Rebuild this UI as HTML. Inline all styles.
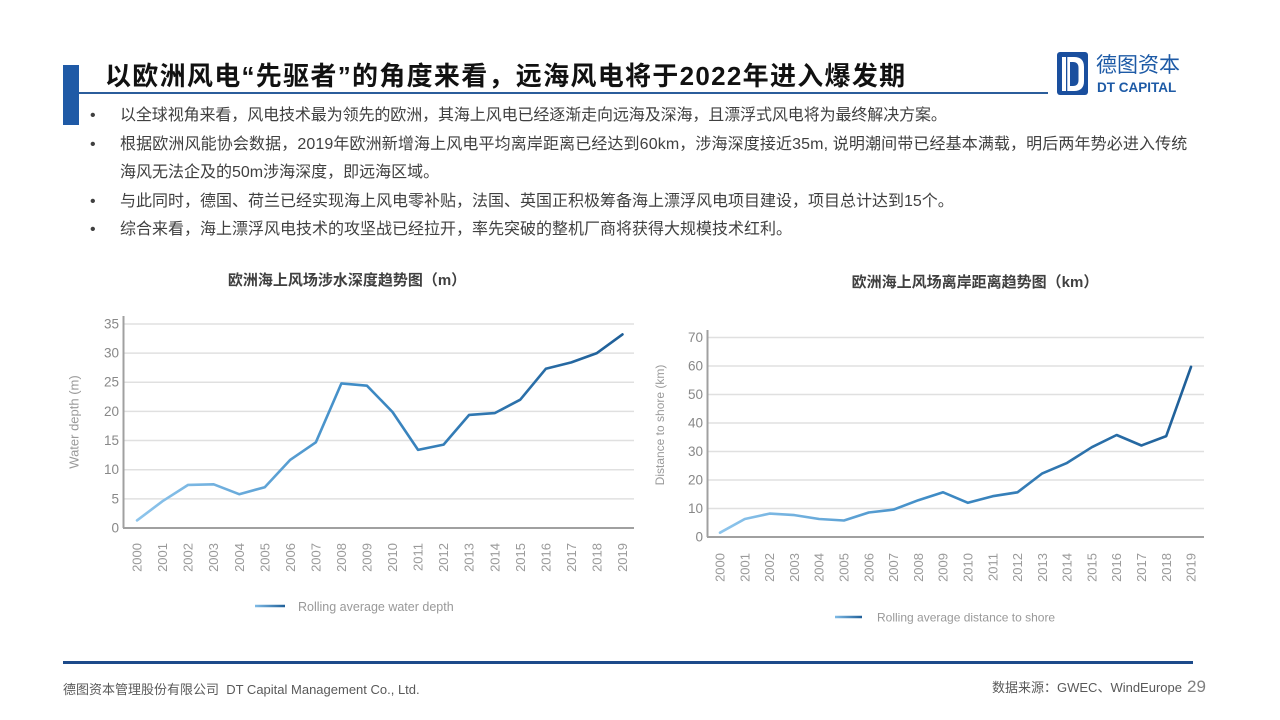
<!DOCTYPE html>
<html>
<head>
<meta charset="utf-8">
<style>
  html,body{margin:0;padding:0;background:#fff;}
  body{width:1280px;height:720px;position:relative;overflow:hidden;font-family:"Liberation Sans","Noto Sans CJK SC",sans-serif;}
  .abs{position:absolute;white-space:nowrap;}
  .title{left:105px;top:59px;font-size:26px;line-height:34px;font-weight:bold;color:#111;letter-spacing:1.3px;font-family:"Liberation Sans","Noto Sans CJK SC",sans-serif;}
  .bul{left:90px;font-size:16px;line-height:20px;color:#404040;}
  .txt{left:120px;font-size:16px;line-height:20px;color:#404040;}
  .foot{font-size:13px;line-height:16px;color:#595959;}
</style>
</head>
<body>
<!-- left bar -->
<div class="abs" style="left:63px;top:65px;width:16px;height:60px;background:#1f5aa6;"></div>
<!-- title underline -->
<div class="abs" style="left:79px;top:91.5px;width:969px;height:2.5px;background:#2b5d9b;"></div>
<div class="abs title">以欧洲风电“先驱者”的角度来看，远海风电将于2022年进入爆发期</div>

<!-- logo -->
<svg class="abs" style="left:0;top:0" width="1280" height="720" viewBox="0 0 1280 720">
  <rect x="1057" y="52" width="31" height="43" rx="3" fill="#1a4f9e"/>
  <path d="M1062,57 H1074 Q1084,57 1084,67 V81 Q1084,91 1074,91 H1062 Z" fill="#fff"/>
  <path d="M1070,62 H1073 Q1078.5,62 1078.5,68 V80 Q1078.5,86 1073,86 H1070 Z" fill="#1a4f9e"/>
  <rect x="1066" y="57" width="1.3" height="34" fill="#1a4f9e"/>
</svg>
<div class="abs" style="left:1096px;top:51px;font-size:21px;line-height:30px;color:#1d5aa6;font-family:'Liberation Sans','Noto Sans CJK SC',sans-serif;">德图资本</div>
<div class="abs" style="left:1097px;top:80px;font-size:13.5px;line-height:16px;font-weight:bold;color:#1d5aa6;">DT CAPITAL</div>

<!-- bullets -->
<div class="abs bul" style="top:106px;">•</div>
<div class="abs txt" style="top:106px;letter-spacing:-0.1px;">以全球视角来看，风电技术最为领先的欧洲，其海上风电已经逐渐走向远海及深海，且漂浮式风电将为最终解决方案。</div>
<div class="abs bul" style="top:134.5px;">•</div>
<div class="abs txt" style="top:134.5px;letter-spacing:0.12px;">根据欧洲风能协会数据，2019年欧洲新增海上风电平均离岸距离已经达到60km，涉海深度接近35m, 说明潮间带已经基本满载，明后两年势必进入传统</div>
<div class="abs txt" style="top:163px;">海风无法企及的50m涉海深度，即远海区域。</div>
<div class="abs bul" style="top:191.5px;">•</div>
<div class="abs txt" style="top:191.5px;">与此同时，德国、荷兰已经实现海上风电零补贴，法国、英国正积极筹备海上漂浮风电项目建设，项目总计达到15个。</div>
<div class="abs bul" style="top:220px;">•</div>
<div class="abs txt" style="top:220px;">综合来看，海上漂浮风电技术的攻坚战已经拉开，率先突破的整机厂商将获得大规模技术红利。</div>

<!-- charts -->
<svg class="abs" style="left:0;top:0" width="1280" height="720" viewBox="0 0 1280 720" font-family="Liberation Sans, sans-serif">
  <defs>
    <linearGradient id="g1" gradientUnits="userSpaceOnUse" x1="137" y1="0" x2="622" y2="0">
      <stop offset="0" stop-color="#8ec5ec"/>
      <stop offset="0.45" stop-color="#3f8cc6"/>
      <stop offset="1" stop-color="#1f5f98"/>
    </linearGradient>
    <linearGradient id="g2" gradientUnits="userSpaceOnUse" x1="720" y1="0" x2="1191" y2="0">
      <stop offset="0" stop-color="#8ec5ec"/>
      <stop offset="0.45" stop-color="#3f8cc6"/>
      <stop offset="1" stop-color="#1f5f98"/>
    </linearGradient>
    <linearGradient id="gl1" gradientUnits="userSpaceOnUse" x1="255" y1="0" x2="285" y2="0">
      <stop offset="0" stop-color="#7fbbe6"/>
      <stop offset="1" stop-color="#1f5f98"/>
    </linearGradient>
    <linearGradient id="gl2" gradientUnits="userSpaceOnUse" x1="835" y1="0" x2="862" y2="0">
      <stop offset="0" stop-color="#7fbbe6"/>
      <stop offset="1" stop-color="#1f5f98"/>
    </linearGradient>
  </defs>

  <!-- Chart 1 -->
  <text x="347" y="285" text-anchor="middle" font-size="15" font-weight="bold" fill="#404040" font-family="Liberation Sans, Noto Sans CJK SC, sans-serif">欧洲海上风场涉水深度趋势图（m）</text>
  <g stroke="#e0e0e0" stroke-width="1.5">
    <line x1="124" y1="498.85" x2="634" y2="498.85"/>
    <line x1="124" y1="469.7" x2="634" y2="469.7"/>
    <line x1="124" y1="440.55" x2="634" y2="440.55"/>
    <line x1="124" y1="411.4" x2="634" y2="411.4"/>
    <line x1="124" y1="382.25" x2="634" y2="382.25"/>
    <line x1="124" y1="353.1" x2="634" y2="353.1"/>
    <line x1="124" y1="323.95" x2="634" y2="323.95"/>
  </g>
  <line x1="123.5" y1="316" x2="123.5" y2="528" stroke="#a0a0a0" stroke-width="2"/>
  <line x1="123" y1="528" x2="634" y2="528" stroke="#a0a0a0" stroke-width="2"/>
  <g font-size="13.5" fill="#888" text-anchor="end">
    <text x="119" y="532.5">0</text>
    <text x="119" y="503.3">5</text>
    <text x="119" y="474.2">10</text>
    <text x="119" y="445">15</text>
    <text x="119" y="415.9">20</text>
    <text x="119" y="386.7">25</text>
    <text x="119" y="357.6">30</text>
    <text x="119" y="328.4">35</text>
  </g>
  <text transform="translate(74,422) rotate(-90)" text-anchor="middle" dy="0.35em" font-size="13" fill="#9a9a9a">Water depth (m)</text>
  <g font-size="13" fill="#9a9a9a" text-anchor="end">
    <text transform="translate(137,543) rotate(-90)" dy="0.35em">2000</text>
    <text transform="translate(162.55,543) rotate(-90)" dy="0.35em">2001</text>
    <text transform="translate(188.1,543) rotate(-90)" dy="0.35em">2002</text>
    <text transform="translate(213.65,543) rotate(-90)" dy="0.35em">2003</text>
    <text transform="translate(239.2,543) rotate(-90)" dy="0.35em">2004</text>
    <text transform="translate(264.75,543) rotate(-90)" dy="0.35em">2005</text>
    <text transform="translate(290.3,543) rotate(-90)" dy="0.35em">2006</text>
    <text transform="translate(315.85,543) rotate(-90)" dy="0.35em">2007</text>
    <text transform="translate(341.4,543) rotate(-90)" dy="0.35em">2008</text>
    <text transform="translate(366.95,543) rotate(-90)" dy="0.35em">2009</text>
    <text transform="translate(392.5,543) rotate(-90)" dy="0.35em">2010</text>
    <text transform="translate(418.05,543) rotate(-90)" dy="0.35em">2011</text>
    <text transform="translate(443.6,543) rotate(-90)" dy="0.35em">2012</text>
    <text transform="translate(469.15,543) rotate(-90)" dy="0.35em">2013</text>
    <text transform="translate(494.7,543) rotate(-90)" dy="0.35em">2014</text>
    <text transform="translate(520.25,543) rotate(-90)" dy="0.35em">2015</text>
    <text transform="translate(545.8,543) rotate(-90)" dy="0.35em">2016</text>
    <text transform="translate(571.35,543) rotate(-90)" dy="0.35em">2017</text>
    <text transform="translate(596.9,543) rotate(-90)" dy="0.35em">2018</text>
    <text transform="translate(622.45,543) rotate(-90)" dy="0.35em">2019</text>
  </g>
  <polyline fill="none" stroke="url(#g1)" stroke-width="2.6" stroke-linejoin="round" stroke-linecap="round"
    points="137,520.4 162.55,501.2 188.1,484.9 213.65,484.3 239.2,494.2 264.75,487.2 290.3,459.8 315.85,442.3 341.4,383.4 366.95,385.7 392.5,412 418.05,449.9 443.6,444.6 469.15,414.9 494.7,413.1 520.25,399.7 545.8,368.8 571.35,362.4 596.9,353.1 622.45,334.4"/>
  <line x1="255" y1="606" x2="285" y2="606" stroke="url(#gl1)" stroke-width="2.6"/>
  <text x="298" y="611" font-size="12.5" fill="#999">Rolling average water depth</text>

  <!-- Chart 2 -->
  <text x="975" y="287" text-anchor="middle" font-size="15" font-weight="bold" fill="#404040" font-family="Liberation Sans, Noto Sans CJK SC, sans-serif">欧洲海上风场离岸距离趋势图（km）</text>
  <g stroke="#e0e0e0" stroke-width="1.5">
    <line x1="708" y1="508.5" x2="1204" y2="508.5"/>
    <line x1="708" y1="480" x2="1204" y2="480"/>
    <line x1="708" y1="451.5" x2="1204" y2="451.5"/>
    <line x1="708" y1="423" x2="1204" y2="423"/>
    <line x1="708" y1="394.5" x2="1204" y2="394.5"/>
    <line x1="708" y1="366" x2="1204" y2="366"/>
    <line x1="708" y1="337.5" x2="1204" y2="337.5"/>
  </g>
  <line x1="707.5" y1="330" x2="707.5" y2="537" stroke="#a0a0a0" stroke-width="2"/>
  <line x1="707" y1="537" x2="1204" y2="537" stroke="#a0a0a0" stroke-width="2"/>
  <g font-size="13.5" fill="#888" text-anchor="end">
    <text x="703" y="541.5">0</text>
    <text x="703" y="513">10</text>
    <text x="703" y="484.5">20</text>
    <text x="703" y="456">30</text>
    <text x="703" y="427.5">40</text>
    <text x="703" y="399">50</text>
    <text x="703" y="370.5">60</text>
    <text x="703" y="342">70</text>
  </g>
  <text transform="translate(660,425) rotate(-90)" text-anchor="middle" dy="0.35em" font-size="12" fill="#9a9a9a">Distance to shore (km)</text>
  <g font-size="13" fill="#9a9a9a" text-anchor="end">
    <text transform="translate(720,553) rotate(-90)" dy="0.35em">2000</text>
    <text transform="translate(744.79,553) rotate(-90)" dy="0.35em">2001</text>
    <text transform="translate(769.58,553) rotate(-90)" dy="0.35em">2002</text>
    <text transform="translate(794.37,553) rotate(-90)" dy="0.35em">2003</text>
    <text transform="translate(819.16,553) rotate(-90)" dy="0.35em">2004</text>
    <text transform="translate(843.95,553) rotate(-90)" dy="0.35em">2005</text>
    <text transform="translate(868.74,553) rotate(-90)" dy="0.35em">2006</text>
    <text transform="translate(893.53,553) rotate(-90)" dy="0.35em">2007</text>
    <text transform="translate(918.32,553) rotate(-90)" dy="0.35em">2008</text>
    <text transform="translate(943.11,553) rotate(-90)" dy="0.35em">2009</text>
    <text transform="translate(967.9,553) rotate(-90)" dy="0.35em">2010</text>
    <text transform="translate(992.69,553) rotate(-90)" dy="0.35em">2011</text>
    <text transform="translate(1017.48,553) rotate(-90)" dy="0.35em">2012</text>
    <text transform="translate(1042.27,553) rotate(-90)" dy="0.35em">2013</text>
    <text transform="translate(1067.06,553) rotate(-90)" dy="0.35em">2014</text>
    <text transform="translate(1091.85,553) rotate(-90)" dy="0.35em">2015</text>
    <text transform="translate(1116.64,553) rotate(-90)" dy="0.35em">2016</text>
    <text transform="translate(1141.43,553) rotate(-90)" dy="0.35em">2017</text>
    <text transform="translate(1166.22,553) rotate(-90)" dy="0.35em">2018</text>
    <text transform="translate(1191,553) rotate(-90)" dy="0.35em">2019</text>
  </g>
  <polyline fill="none" stroke="url(#g2)" stroke-width="2.6" stroke-linejoin="round" stroke-linecap="round"
    points="720,532.7 744.79,519 769.58,513.6 794.37,515.1 819.16,519 843.95,520.5 868.74,512.5 893.53,509.6 918.32,500.2 943.11,492.3 967.9,502.8 992.69,496.2 1017.48,492.3 1042.27,473.4 1067.06,462.9 1091.85,447.2 1116.64,435 1141.43,445.5 1166.22,436.1 1191,366.9"/>
  <line x1="835" y1="617" x2="862" y2="617" stroke="url(#gl2)" stroke-width="2.6"/>
  <text x="877" y="621.5" font-size="12" fill="#999">Rolling average distance to shore</text>
</svg>

<!-- footer -->
<div class="abs" style="left:63px;top:660.5px;width:1130px;height:3.5px;background:#1c4a8a;"></div>
<div class="abs foot" style="left:63px;top:682px;">德图资本管理股份有限公司&nbsp; DT Capital Management Co., Ltd.</div>
<div class="abs foot" style="left:992px;top:680px;">数据来源：GWEC、WindEurope</div>
<div class="abs" style="left:1187px;top:677px;font-size:17px;line-height:20px;color:#808080;">29</div>
</body>
</html>
